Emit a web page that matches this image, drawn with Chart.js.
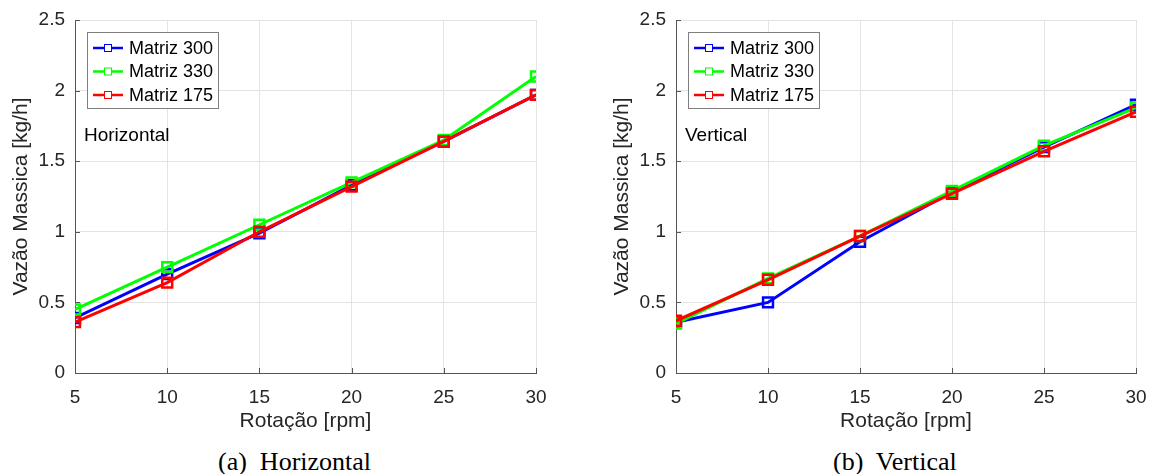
<!DOCTYPE html>
<html>
<head>
<meta charset="utf-8">
<script src="https://cdn.jsdelivr.net/npm/chart.js@4/dist/chart.umd.min.js"></script>
<style>
  body { margin: 0; background: #fff; width: 1155px; height: 474px; position: relative; overflow: hidden; }
  canvas { position: absolute; top: 0; }
  .cap { position: absolute; top: 447px; line-height: 30px; font-family: "Liberation Serif", "Times New Roman", serif; font-size: 26px; color: #000; white-space: pre; }
</style>
</head>
<body>
<canvas id="horiz" style="left:0px" width="577" height="440"></canvas>
<canvas id="vert" style="left:601px" width="554" height="440"></canvas>
<div class="cap" style="left:218px">(a)  Horizontal</div>
<div class="cap" style="left:833px">(b)  Vertical</div>
<script>
var rotacao = [5, 10, 15, 20, 25, 30];
var seriesNames = ['Matriz 300', 'Matriz 330', 'Matriz 175'];
var seriesColors = ['#0000ff', '#00ff00', '#ff0000'];

// Horizontal
var horizM300 = [0.39, 0.70, 0.99, 1.33, 1.64, 1.97];
var horizM330 = [0.45, 0.75, 1.05, 1.35, 1.65, 2.10];
var horizM175 = [0.36, 0.64, 1.00, 1.32, 1.64, 1.97];

// Vertical
var vertM300 = [0.36, 0.50, 0.93, 1.28, 1.60, 1.90];
var vertM330 = [0.35, 0.67, 0.97, 1.29, 1.61, 1.88];
var vertM175 = [0.37, 0.66, 0.97, 1.27, 1.57, 1.85];

var yTicks = [0, 0.5, 1, 1.5, 2, 2.5];

var fontName = '"Liberation Sans", Arial, sans-serif';

function makeSets(arrs) {
  return arrs.map(function (vals, i) {
    return {
      label: seriesNames[i],
      data: rotacao.map(function (x, j) { return { x: x, y: vals[j] }; }),
      borderColor: seriesColors[i],
      backgroundColor: 'rgba(0,0,0,0)',
      borderWidth: 3,
      pointStyle: 'rect',
      pointRadius: 7,
      pointBorderWidth: 2.5,
      pointBorderColor: seriesColors[i],
      tension: 0,
      order: 2 - i   // last series drawn on top, like the original
    };
  });
}

// legend box + panel label + inward ticks
var extras = {
  id: 'extras',
  afterDraw: function (chart, args, opts) {
    var c = chart.ctx, a = chart.chartArea;
    var xs = chart.scales.x, ys = chart.scales.y;
    c.save();
    // inward ticks
    c.strokeStyle = '#555';
    c.lineWidth = 1;
    rotacao.forEach(function (v) {
      var px = Math.round(xs.getPixelForValue(v)) + 0.5;
      c.beginPath(); c.moveTo(px, a.bottom); c.lineTo(px, a.bottom - 5); c.stroke();
    });
    yTicks.forEach(function (v) {
      var py = Math.round(ys.getPixelForValue(v)) + 0.5;
      c.beginPath(); c.moveTo(a.left, py); c.lineTo(a.left + 5, py); c.stroke();
    });
    // legend
    var lx = a.left + 12, ly = a.top + 12, lw = 131, lh = 76;
    c.fillStyle = '#fff';
    c.fillRect(lx, ly, lw, lh);
    c.strokeStyle = '#7f7f7f';
    c.lineWidth = 1;
    c.strokeRect(lx + 0.5, ly + 0.5, lw, lh);
    c.font = '18px ' + fontName;
    c.textBaseline = 'middle';
    c.textAlign = 'left';
    seriesNames.forEach(function (n, i) {
      var cy = ly + 16 + i * 23.5;
      c.strokeStyle = seriesColors[i];
      c.lineWidth = 2.5;
      c.beginPath(); c.moveTo(lx + 6, cy); c.lineTo(lx + 36, cy); c.stroke();
      c.lineWidth = 1;
      c.fillStyle = '#fff';
      c.fillRect(lx + 17, cy - 4, 8, 8);
      c.strokeRect(lx + 17.5, cy - 3.5, 7, 7);
      c.fillStyle = '#000';
      c.fillText(n, lx + 42, cy + 1);
    });
    // panel label
    c.font = '19px ' + fontName;
    c.fillStyle = '#000';
    c.fillText(opts.text, a.left + 9, ys.getPixelForValue(1.68));
    c.restore();
  }
};

function makeChart(id, arrs, label, rightPad) {
  return new Chart(document.getElementById(id), {
    type: 'line',
    data: { datasets: makeSets(arrs) },
    plugins: [extras],
    options: {
      responsive: false,
      animation: false,
      layout: { padding: { left: 0, right: rightPad, top: 20, bottom: 6 } },
      plugins: {
        legend: { display: false },
        tooltip: { enabled: false },
        extras: { text: label }
      },
      scales: {
        x: {
          type: 'linear',
          min: 5, max: 30,
          ticks: { stepSize: 5, color: '#262626', font: { family: fontName, size: 19 }, padding: 13, maxRotation: 0 },
          grid: { color: '#e3e3e3', drawTicks: false },
          border: { color: '#555', width: 1 },
          title: { display: true, text: 'Rotação [rpm]', color: '#262626', font: { family: fontName, size: 21 }, padding: { top: 0, bottom: 0 } },
          afterFit: function (s) { s.height = 61; s.paddingLeft = 0; s.paddingRight = 0; }
        },
        y: {
          min: 0, max: 2.5,
          ticks: { stepSize: 0.5, color: '#262626', font: { family: fontName, size: 19 }, padding: 10,
            callback: function (v) { return String(v); } },
          grid: { color: '#e3e3e3', drawTicks: false },
          border: { color: '#555', width: 1 },
          title: { display: true, text: 'Vazão Massica [kg/h]', color: '#262626', font: { family: fontName, size: 21 }, padding: { top: 9, bottom: 0 } },
          afterFit: function (s) { s.width = 75; s.paddingTop = 0; s.paddingBottom = 0; }
        }
      }
    }
  });
}

makeChart('horiz', [horizM300, horizM330, horizM175], 'Horizontal', 41);
makeChart('vert', [vertM300, vertM330, vertM175], 'Vertical', 19);
</script>
</body>
</html>
